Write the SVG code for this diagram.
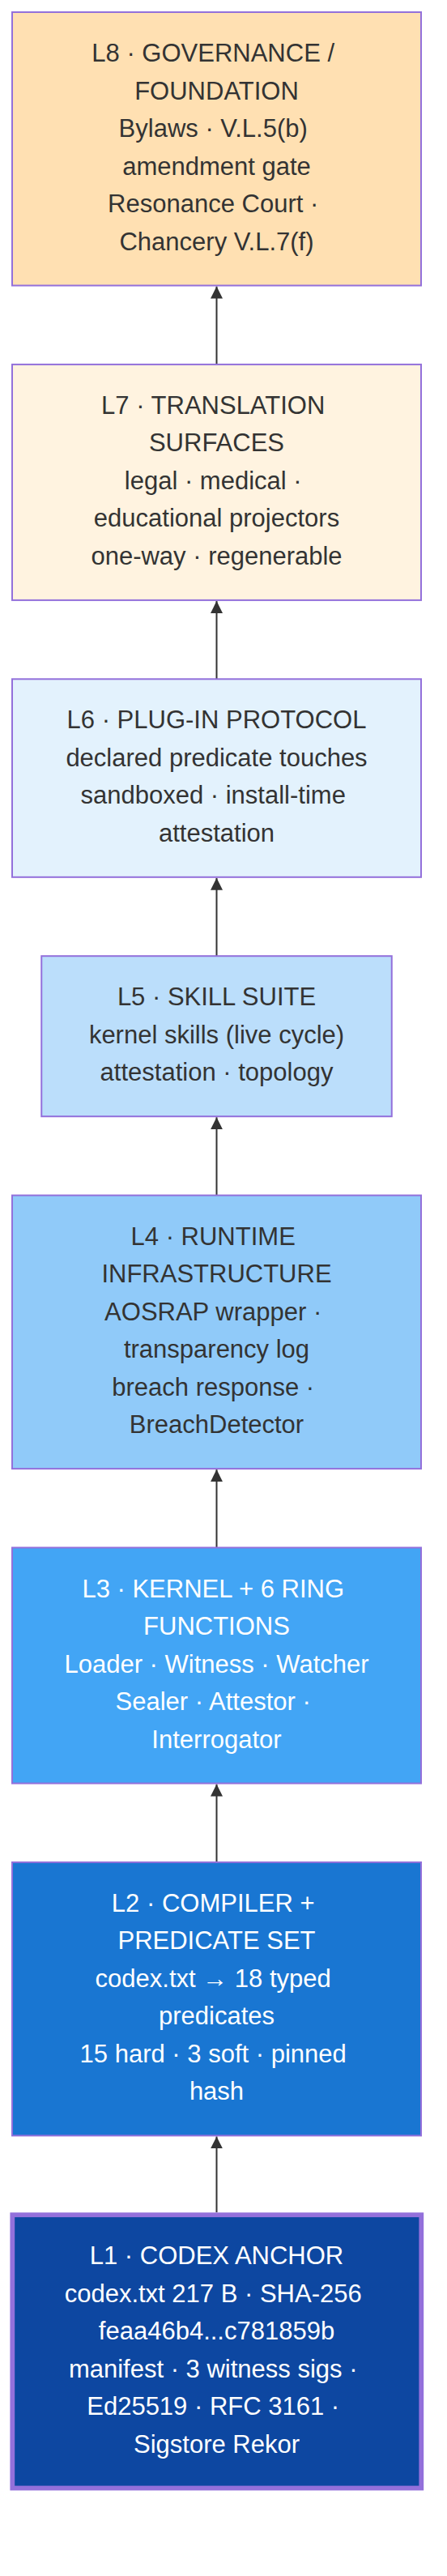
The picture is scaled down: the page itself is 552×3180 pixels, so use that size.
<svg xmlns="http://www.w3.org/2000/svg" width="552" height="3180" viewBox="0 0 552 3180">
<defs>
<marker id="ah" viewBox="0 0 10 10" refX="10" refY="5" markerWidth="15" markerHeight="15" markerUnits="userSpaceOnUse" orient="auto">
<path d="M0,0 L10,5 L0,10 z" fill="#333333"/>
</marker>
</defs>
<style>
.box{stroke:#9370DB;stroke-width:2}
.t{font-family:"Liberation Sans",Arial,Helvetica,sans-serif;font-size:31px;text-anchor:middle}
.d{fill:#333333}
.w{fill:#ffffff}
.edge{stroke:#333333;stroke-width:2;fill:none;marker-end:url(#ah)}
</style>
<rect width="552" height="3180" fill="#ffffff"/>
<g id="connectors">
<line class="edge" x1="267.5" y1="449.9" x2="267.5" y2="353.5"/>
<line class="edge" x1="267.5" y1="838.3" x2="267.5" y2="741.9"/>
<line class="edge" x1="267.5" y1="1180.2" x2="267.5" y2="1083.8"/>
<line class="edge" x1="267.5" y1="1475.6" x2="267.5" y2="1379.2"/>
<line class="edge" x1="267.5" y1="1910.5" x2="267.5" y2="1814.1"/>
<line class="edge" x1="267.5" y1="2298.9" x2="267.5" y2="2202.5"/>
<line class="edge" x1="267.5" y1="2731" x2="267.5" y2="2637.4"/>
</g>
<g id="L8">
<rect class="box" x="15" y="15" width="505" height="337.5" fill="#ffe0b2"/>
<text class="t d"><tspan x="263.2" y="76">L8 · GOVERNANCE /</tspan><tspan x="267.5" y="122.5">FOUNDATION</tspan><tspan x="263.2" y="169">Bylaws · V.L.5(b)</tspan><tspan x="267.5" y="215.5">amendment gate</tspan><tspan x="263.2" y="262">Resonance Court ·</tspan><tspan x="267.5" y="308.5">Chancery V.L.7(f)</tspan></text>
</g>
<g id="L7">
<rect class="box" x="15" y="449.9" width="505" height="291" fill="#fff3e0"/>
<text class="t d"><tspan x="263.2" y="510.9">L7 · TRANSLATION</tspan><tspan x="267.5" y="557.4">SURFACES</tspan><tspan x="263.2" y="603.9">legal · medical ·</tspan><tspan x="267.5" y="650.4">educational projectors</tspan><tspan x="267.5" y="696.9">one-way · regenerable</tspan></text>
</g>
<g id="L6">
<rect class="box" x="15" y="838.3" width="505" height="244.5" fill="#e3f2fd"/>
<text class="t d"><tspan x="267.5" y="899.3">L6 · PLUG-IN PROTOCOL</tspan><tspan x="267.5" y="945.8">declared predicate touches</tspan><tspan x="263.2" y="992.3">sandboxed · install-time</tspan><tspan x="267.5" y="1038.8">attestation</tspan></text>
</g>
<g id="L5">
<rect class="box" x="51.25" y="1180.2" width="432.5" height="198" fill="#bbdefb"/>
<text class="t d"><tspan x="267.5" y="1241.2">L5 · SKILL SUITE</tspan><tspan x="267.5" y="1287.7">kernel skills (live cycle)</tspan><tspan x="267.5" y="1334.2">attestation · topology</tspan></text>
</g>
<g id="L4">
<rect class="box" x="15" y="1475.6" width="505" height="337.5" fill="#90caf9"/>
<text class="t d"><tspan x="263.2" y="1536.6">L4 · RUNTIME</tspan><tspan x="267.5" y="1583.1">INFRASTRUCTURE</tspan><tspan x="263.2" y="1629.6">AOSRAP wrapper ·</tspan><tspan x="267.5" y="1676.1">transparency log</tspan><tspan x="263.2" y="1722.6">breach response ·</tspan><tspan x="267.5" y="1769.1">BreachDetector</tspan></text>
</g>
<g id="L3">
<rect class="box" x="15" y="1910.5" width="505" height="291" fill="#42a5f5"/>
<text class="t w"><tspan x="263.2" y="1971.5">L3 · KERNEL + 6 RING</tspan><tspan x="267.5" y="2018">FUNCTIONS</tspan><tspan x="267.5" y="2064.5">Loader · Witness · Watcher</tspan><tspan x="263.2" y="2111">Sealer · Attestor ·</tspan><tspan x="267.5" y="2157.5">Interrogator</tspan></text>
</g>
<g id="L2">
<rect class="box" x="15" y="2298.9" width="505" height="337.5" fill="#1976d2"/>
<text class="t w"><tspan x="263.2" y="2359.9">L2 · COMPILER +</tspan><tspan x="267.5" y="2406.4">PREDICATE SET</tspan><tspan x="263.2" y="2452.9">codex.txt → 18 typed</tspan><tspan x="267.5" y="2499.4">predicates</tspan><tspan x="263.2" y="2545.9">15 hard · 3 soft · pinned</tspan><tspan x="267.5" y="2592.4">hash</tspan></text>
</g>
<g id="L1">
<rect x="15.3" y="2734.2" width="505" height="337.3" fill="#0d47a1" stroke="#9370DB" stroke-width="5.8"/>
<text class="t w"><tspan x="267.5" y="2795.2">L1 · CODEX ANCHOR</tspan><tspan x="263.2" y="2841.7">codex.txt 217 B · SHA-256</tspan><tspan x="267.5" y="2888.2">feaa46b4...c781859b</tspan><tspan x="263.2" y="2934.7">manifest · 3 witness sigs ·</tspan><tspan x="263.2" y="2981.2">Ed25519 · RFC 3161 ·</tspan><tspan x="267.5" y="3027.7">Sigstore Rekor</tspan></text>
</g>
</svg>
